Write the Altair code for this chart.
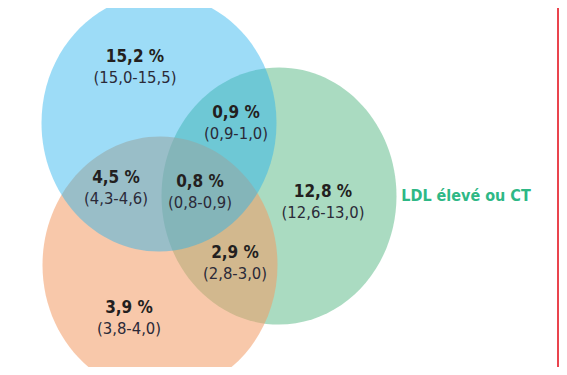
import altair as alt
import pandas as pd

# ---------------- data ----------------
region_pct = ["15,2 %", "0,9 %", "4,5 %", "0,8 %", "12,8 %", "2,9 %", "3,9 %"]
region_ci = ["(15,0-15,5)", "(0,9-1,0)", "(4,3-4,6)", "(0,8-0,9)",
             "(12,6-13,0)", "(2,8-3,0)", "(3,8-4,0)"]
set_keys = ["ldl", "orange", "bleu"]
set_label = "LDL élevé ou CT"

# ---------------- layout (page pixel coordinates) ----------------
W, H = 551, 359
ell_cx = [279, 160, 159]
ell_cy = [196, 265, 123]
ell_rx = 117.5
ell_aspect = 1.094
ell_fill = ["#71C398", "#F29B64", "#26B1ED"]
ell_alpha = [0.6, 0.55, 0.45]
lab_x = [135, 236, 116, 200, 323, 235, 129]
lab_y = [62, 118, 183, 187, 197, 258, 313]
set_lab_xy = (466, 201)
rule_x = 558

FONT = "Liberation Sans Narrow, DejaVu Sans Condensed, Roboto Condensed, Noto Sans, sans-serif"

xs = alt.Scale(domain=[8, 8 + W], nice=False, zero=False)
ys = alt.Scale(domain=[8, 8 + H], nice=False, zero=False, reverse=True)

k = 0.5523
a = ell_aspect
shape = (f"M 0 {-a} C {k} {-a} 1 {-k*a} 1 0 C 1 {k*a} {k} {a} 0 {a} "
         f"C {-k} {a} -1 {k*a} -1 0 C -1 {-k*a} {-k} {-a} 0 {-a} Z")

ell_df = pd.DataFrame({"key": set_keys, "x": ell_cx, "y": ell_cy,
                       "fill": ell_fill, "alpha": ell_alpha,
                       "order": [0, 1, 2]})
lab_df = pd.DataFrame({"pct": region_pct, "ci": region_ci, "x": lab_x, "y": lab_y})
set_df = pd.DataFrame({"t": [set_label], "x": [set_lab_xy[0]], "y": [set_lab_xy[1]]})
rule_df = pd.DataFrame({"x": [rule_x], "y": [8], "y2": [8 + H]})

ellipses = alt.Chart(ell_df).mark_point(filled=True, shape=shape, strokeWidth=0).encode(
    x=alt.X("x:Q", scale=xs, axis=None),
    y=alt.Y("y:Q", scale=ys, axis=None),
    fill=alt.Fill("fill:N", scale=None),
    opacity=alt.Opacity("alpha:Q", scale=None),
    order=alt.Order("order:Q"),
    size=alt.value((2 * ell_rx) ** 2),
)

bold = alt.Chart(lab_df).mark_text(font=FONT, fontSize=17, fontWeight="bold",
                                   color="#231F20", baseline="alphabetic",
                                   align="center").encode(
    x=alt.X("x:Q", scale=xs, axis=None),
    y=alt.Y("y:Q", scale=ys, axis=None),
    text="pct:N",
)

ci = alt.Chart(lab_df).mark_text(font=FONT, fontSize=16.5, color="#2B2A38",
                                 baseline="alphabetic", align="center", dy=21).encode(
    x=alt.X("x:Q", scale=xs, axis=None),
    y=alt.Y("y:Q", scale=ys, axis=None),
    text="ci:N",
)

setlab = alt.Chart(set_df).mark_text(font=FONT, fontSize=16, fontWeight="bold",
                                     color="#2EB886", baseline="alphabetic",
                                     align="center").encode(
    x=alt.X("x:Q", scale=xs, axis=None),
    y=alt.Y("y:Q", scale=ys, axis=None),
    text="t:N",
)

rule = alt.Chart(rule_df).mark_rule(color="#E30613", strokeWidth=1.5).encode(
    x=alt.X("x:Q", scale=xs, axis=None),
    y=alt.Y("y:Q", scale=ys, axis=None),
    y2="y2:Q",
)

chart = alt.layer(ellipses, bold, ci, setlab, rule).properties(
    width=W, height=H, padding=0, autosize="none", background="white"
).configure_view(stroke=None)

chart.save("out.html", embed_options={"renderer": "svg", "actions": False})
